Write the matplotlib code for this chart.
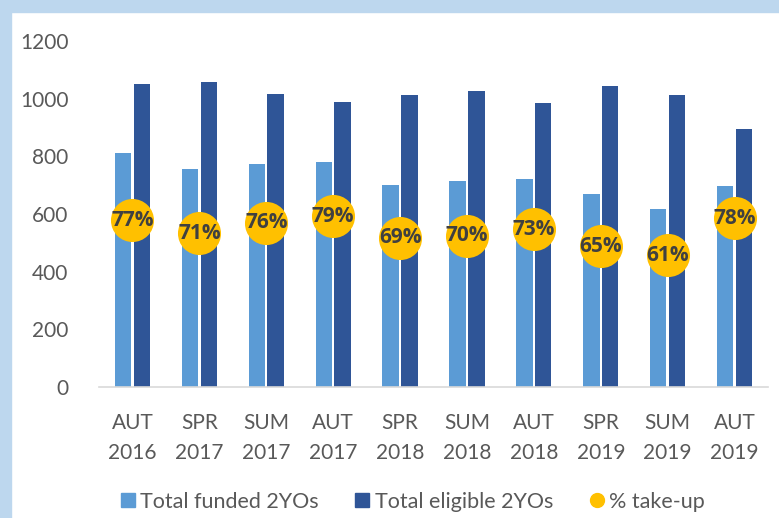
import numpy as np
import matplotlib
matplotlib.use('Agg')
import matplotlib.pyplot as plt
from matplotlib.lines import Line2D
from matplotlib.patches import Rectangle

#%% Data
terms = ['AUT\n2016', 'SPR\n2017', 'SUM\n2017', 'AUT\n2017', 'SPR\n2018',
         'SUM\n2018', 'AUT\n2018', 'SPR\n2019', 'SUM\n2019', 'AUT\n2019']
funded = [810, 755, 772, 779, 702, 713, 723, 671, 616, 696]
eligible = [1052, 1059, 1017, 990, 1014, 1028, 986, 1045, 1014, 896]
takeup = [0.77, 0.71, 0.76, 0.79, 0.69, 0.70, 0.73, 0.65, 0.61, 0.78]

#%% Style
rcParams = matplotlib.rcParams
rcParams['font.family'] = ['Lato', 'DejaVu Sans']
grey = '#595959'
c_funded = '#5B9BD5'
c_elig = '#2F5597'
c_pct = '#FFC000'

fig = plt.figure(figsize=(7.79, 5.18), dpi=100)
fig.patch.set_facecolor('white')
# light blue frame on the top and left edge
fig.patches.append(Rectangle((0, 0), 11/779, 1, transform=fig.transFigure,
                             color='#BDD7EE', zorder=0))
fig.patches.append(Rectangle((0, 1 - 12/518), 1, 12/518, transform=fig.transFigure,
                             color='#BDD7EE', zorder=0))

ax = fig.add_axes([99/779, 131/518, 669/779, 346/518])
x = np.arange(len(terms))
w = 0.245
ax.bar(x - 0.14, funded, w, color=c_funded, zorder=2)
ax.bar(x + 0.14, eligible, w, color=c_elig, zorder=2)
ax.set_xlim(-0.5, len(terms) - 0.5)
ax.set_ylim(0, 1200)
ax.set_yticks(np.arange(0, 1201, 200))
ax.set_xticks(x)
ax.set_xticklabels(terms, linespacing=1.6)
ax.tick_params(length=0, labelsize=15, colors=grey)
ax.tick_params(axis='y', pad=22)
ax.tick_params(axis='x', pad=19)
for s in ['top', 'right', 'left']:
    ax.spines[s].set_visible(False)
ax.spines['bottom'].set_color('#D9D9D9')
ax.spines['bottom'].set_linewidth(1.2)

# take-up on a hidden secondary axis
ax2 = ax.twinx()
ax2.set_ylim(0, 1.6)
ax2.axis('off')
ax2.plot(x, takeup, 'o', ms=31, color=c_pct, mec='none', zorder=3)
for xi, p in zip(x, takeup):
    ax2.text(xi, p, '%d%%' % round(p * 100), ha='center', va='center',
             fontsize=15, fontweight='bold', color='#404040',
             family=['Open Sans', 'DejaVu Sans'], zorder=4)

# legend
handles = [Line2D([], [], marker='s', ls='', ms=10, color=c_funded),
           Line2D([], [], marker='s', ls='', ms=10, color=c_elig),
           Line2D([], [], marker='o', ls='', ms=10, color=c_pct)]
labels = ['Total funded 2YOs', 'Total eligible 2YOs', '% take-up']
fig.legend(handles, labels, loc='center', bbox_to_anchor=(411/779, 16/518),
           ncol=3, frameon=False, fontsize=15.5, labelcolor=grey,
           handletextpad=0.1, columnspacing=1.5, handlelength=1.0,
           borderaxespad=0, borderpad=0)

fig.savefig('out.png', dpi=100)
